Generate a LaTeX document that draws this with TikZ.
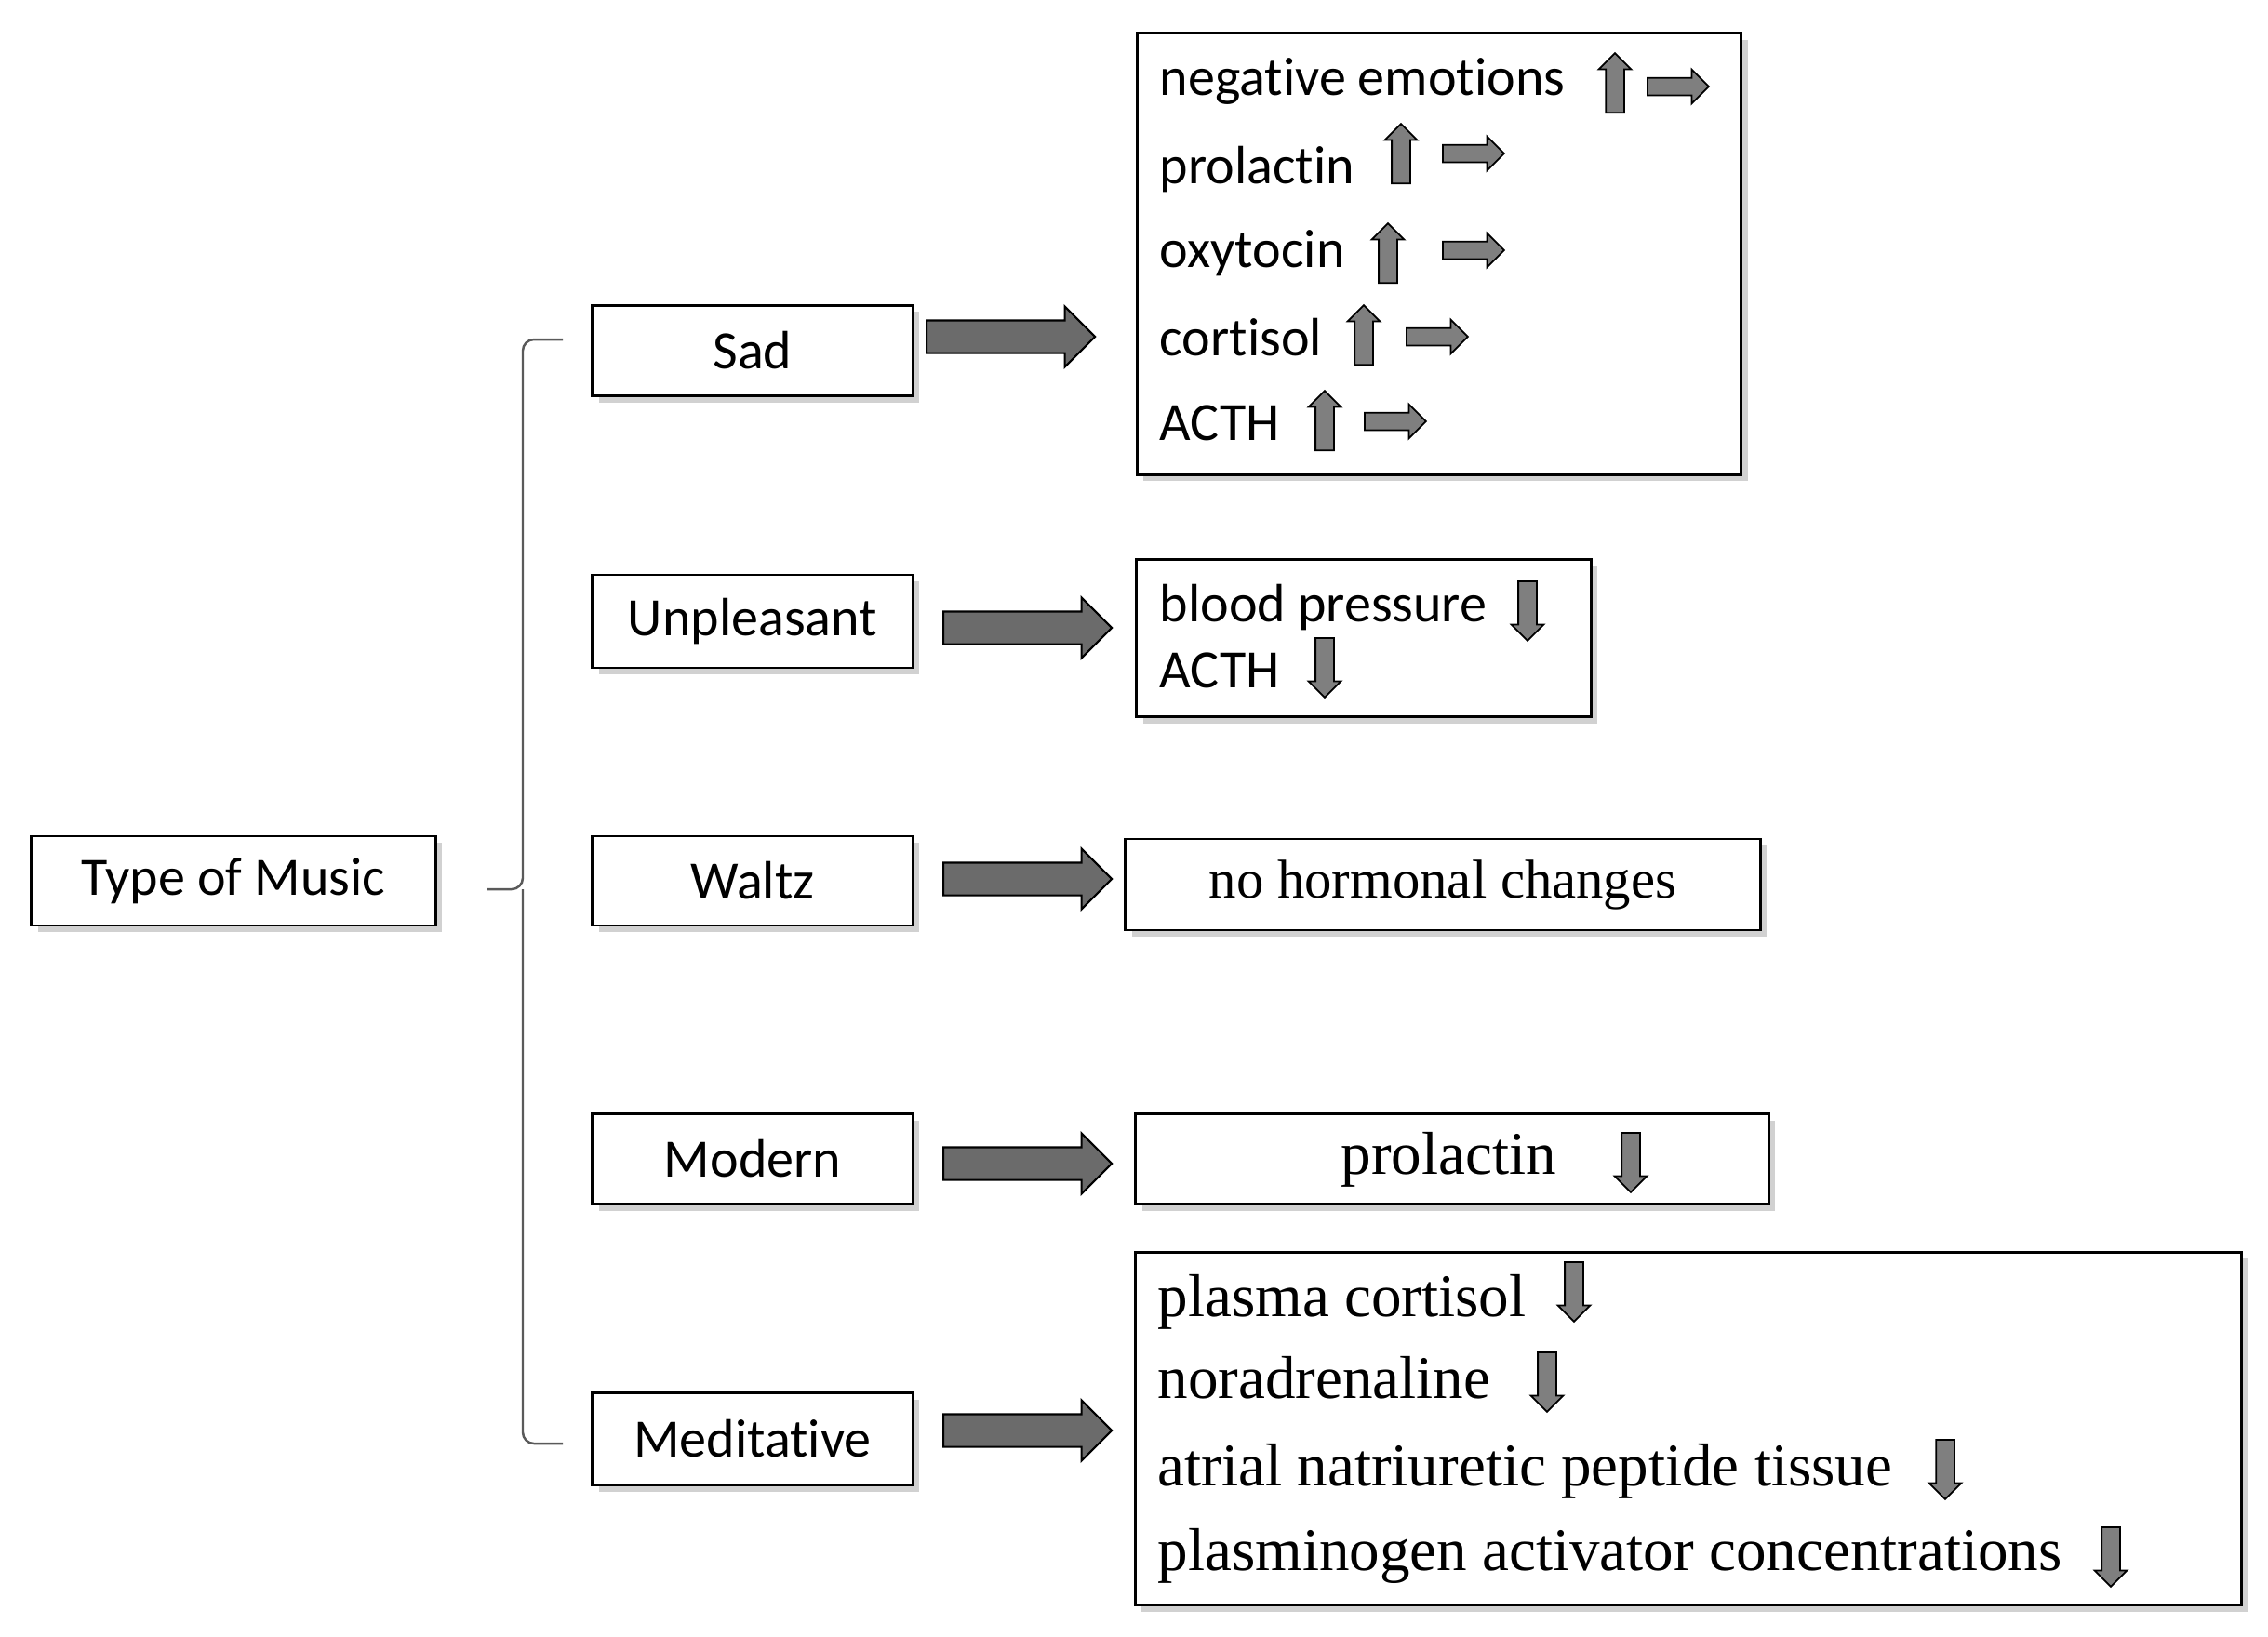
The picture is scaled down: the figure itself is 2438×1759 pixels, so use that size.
\documentclass[tikz,border=0pt]{standalone}
\usepackage{fontspec}
\setmainfont{Carlito}[Ligatures=NoCommon]
\newfontfamily\serfont{Liberation Serif}
\usetikzlibrary{shapes.arrows,shadows}
\definecolor{arrowgray}{HTML}{6B6B6B}
\definecolor{tipgray}{HTML}{7F7F7F}
\definecolor{bracegray}{HTML}{5A5A5A}
\tikzset{
  box/.style={draw,line width=0.8pt,fill=white,inner sep=0pt,
    font=\fontsize{16.5}{20}\selectfont,
    drop shadow={shadow xshift=0.07cm,shadow yshift=-0.07cm,fill=black!40,opacity=0.45}},
  bigarrow/.style={single arrow,draw,fill=arrowgray,line width=0.6pt,inner xsep=0pt,
    inner ysep=0.165cm,minimum height=1.81cm,single arrow head extend=0.15cm,anchor=tail},
  uparrow/.style={single arrow,draw,fill=tipgray,line width=0.5pt,inner xsep=0.09cm,
    inner ysep=0pt,minimum height=0.64cm,single arrow head extend=0.075cm,
    shape border rotate=90,anchor=tail},
  downarrow/.style={uparrow,shape border rotate=270},
  rightarrow/.style={uparrow,shape border rotate=0,minimum height=0.66cm,
    inner xsep=0pt,inner ysep=0.085cm,single arrow head extend=0.09cm},
  sanstext/.style={font=\fontsize{16.5}{20}\selectfont,anchor=base west,inner sep=0pt},
  seriftext/.style={font=\serfont\fontsize{18.5}{22}\selectfont,anchor=base west,inner sep=0pt},
  brace/.style={draw=bracegray,line width=0.7pt,rounded corners=0.12cm}
}
\begin{document}
\begin{tikzpicture}[x=0.01cm,y=-0.01cm]
\fill[white] (0,0) rectangle (2438,1759);
\useasboundingbox (0,0) rectangle (2438,1759);

% type boxes
\node[box,minimum width=4.34cm,minimum height=0.96cm] (music) at (251,947) {Type of Music};
\node[box,minimum width=3.44cm,minimum height=0.97cm] (sad) at (809,377) {Sad};
\node[box,minimum width=3.44cm,minimum height=1.00cm] (unpleasant) at (809,668) {Unpleasant};
\node[box,minimum width=3.44cm,minimum height=0.96cm] (waltz) at (809,947) {Waltz};
\node[box,minimum width=3.44cm,minimum height=0.97cm] (modern) at (809,1246) {Modern};
\node[box,minimum width=3.44cm,minimum height=0.99cm] (meditative) at (809,1547) {Meditative};

% bracket
\coordinate (btop) at (605,365);
\coordinate (bbot) at (605,1552);
\coordinate (bmid) at (562,956);
\coordinate (btick) at (524,956);
\draw[brace] (btop) -| (bmid) -- (btick);
\draw[brace] (bbot) -| (bmid);

% big arrows
\node[bigarrow] (asad) at (995,362) {};
\node[bigarrow] (aunpleasant) at (1013,675) {};
\node[bigarrow] (awaltz) at (1013,945) {};
\node[bigarrow] (amodern) at (1013,1251) {};
\node[bigarrow] (ameditative) at (1013,1538) {};

% result boxes
\node[box,minimum width=6.49cm,minimum height=4.74cm] (rsad) at (1547,273) {};
\node[box,minimum width=4.88cm,minimum height=1.69cm] (runpleasant) at (1466,686) {};
\node[box,minimum width=6.82cm,minimum height=0.98cm,font=\serfont\fontsize{16.7}{20}\selectfont] (rwaltz) at (1551,951) {no hormonal changes};
\node[box,minimum width=6.80cm,minimum height=0.97cm] (rmodern) at (1561,1246) {};
\node[box,minimum width=11.89cm,minimum height=3.79cm] (rmeditative) at (1815,1536) {};

% sad
\node[sanstext] (negemo) at (1246,102) {negative emotions};
\node[uparrow] (unegemo) at (1736,122) {};
\node[rightarrow] (rnegemo) at (1770,93) {};
\node[sanstext] (prol) at (1246,197) {prolactin};
\node[uparrow] (uprol) at (1506,198) {};
\node[rightarrow] (rprol) at (1550,165) {};
\node[sanstext] (oxy) at (1246,287) {oxytocin};
\node[uparrow] (uoxy) at (1492,305) {};
\node[rightarrow] (roxy) at (1550,269) {};
\node[sanstext] (cort) at (1246,382) {cortisol};
\node[uparrow] (ucort) at (1466,393) {};
\node[rightarrow] (rcort) at (1511,362) {};
\node[sanstext] (acth) at (1246,473) {ACTH};
\node[uparrow] (uacth) at (1424,485) {};
\node[rightarrow] (racth) at (1466,453) {};

% unpleasant
\node[sanstext] (bp) at (1246,668) {blood pressure};
\node[downarrow] (dbp) at (1642,624) {};
\node[sanstext] (acthb) at (1246,739) {ACTH};
\node[downarrow] (dacthb) at (1424,685) {};

% modern
\node[seriftext] (prolb) at (1441,1262) {prolactin};
\node[downarrow] (dprolb) at (1753,1217) {};

% meditative
\node[seriftext] (pcort) at (1244,1415) {plasma cortisol};
\node[downarrow] (dpcort) at (1692,1356) {};
\node[seriftext] (nora) at (1244,1503) {noradrenaline};
\node[downarrow] (dnora) at (1663,1453) {};
\node[seriftext] (anp) at (1244,1597) {atrial natriuretic peptide tissue};
\node[downarrow] (danp) at (2091,1547) {};
\node[seriftext] (plasm) at (1244,1688) {plasminogen activator concentrations};
\node[downarrow] (dplasm) at (2269,1641) {};
\end{tikzpicture}
\end{document}
